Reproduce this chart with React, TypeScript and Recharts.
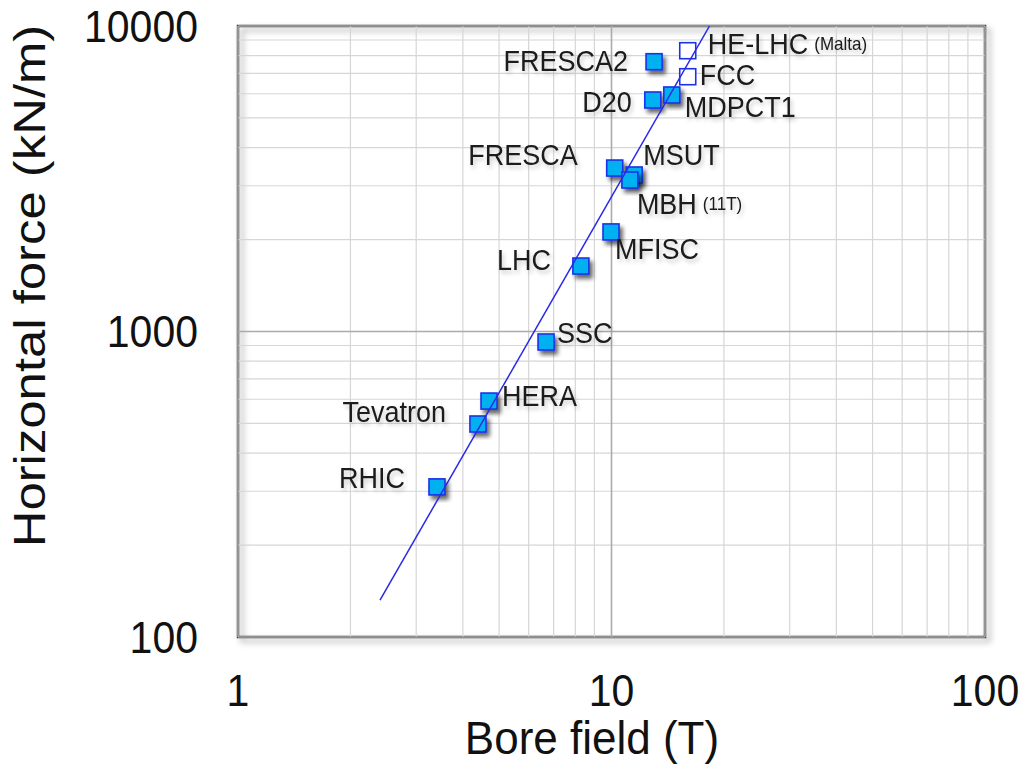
import React from 'react';
import {
  ScatterChart,
  Scatter,
  XAxis,
  YAxis,
  ReferenceLine,
  ReferenceArea,
} from 'recharts';

// magnet data
const magnets = ['RHIC', 'Tevatron', 'HERA', 'SSC', 'LHC', 'MFISC', 'FRESCA', 'MSUT', 'MBH', 'D20', 'MDPCT1', 'FRESCA2', 'FCC', 'HE-LHC'];
const boreField = [3.41, 4.39, 4.7, 6.68, 8.28, 9.97, 10.2, 11.5, 11.2, 12.9, 14.5, 13.0, 16.0, 16.0];
const horizontalForce = [310, 498, 592, 924, 1638, 2118, 3428, 3253, 3133, 5725, 5945, 7640, 6823, 8300];
const designOnly = [false, false, false, false, false, false, false, false, false, false, false, false, true, true];
const labelNotes: Record<string, string> = { MBH: '(11T)', 'HE-LHC': '(Malta)' };

// fitted trend line end points
const fitField = [2.4, 18.3];
const fitForce = [132, 10000];

const xTicks = [1, 10, 100];
const yTicks = [100, 1000, 10000];
const xMinor = [2, 3, 4, 5, 6, 7, 8, 9, 20, 30, 40, 50, 60, 70, 80, 90];
const yMinor = [200, 300, 400, 500, 600, 700, 800, 900, 2000, 3000, 4000, 5000, 6000, 7000, 8000, 9000];

const points = magnets.map((name, i) => ({
  name,
  x: boreField[i],
  y: horizontalForce[i],
  open: designOnly[i],
}));
const fitLine = fitField.map((x, i) => ({ x, y: fitForce[i] }));

// label placement relative to each marker
const labelPos: Record<string, [number, number, 'start' | 'end']> = {
  RHIC: [-32, -9, 'end'],
  Tevatron: [-32, -12, 'end'],
  HERA: [13, -5, 'start'],
  SSC: [11, -9, 'start'],
  LHC: [-30, -6, 'end'],
  MFISC: [4, 17, 'start'],
  FRESCA: [-37, -13, 'end'],
  MSUT: [9, -20, 'start'],
  MBH: [7, 24, 'start'],
  D20: [-21, 2, 'end'],
  MDPCT1: [13, 12, 'start'],
  FRESCA2: [-26, -1, 'end'],
  FCC: [12, -2, 'start'],
  'HE-LHC': [20, -7, 'start'],
};

const FONT = '"Liberation Sans", Arial, Helvetica, sans-serif';
// the original picture is slightly stretched vertically
const STRETCH = 1.08;

const Frame = (props: any) => {
  const { x, y, width, height } = props;
  return (
    <g>
      <defs>
        <filter id="frameShadow" x="-5%" y="-5%" width="115%" height="115%">
          <feDropShadow dx="4" dy="4" stdDeviation="3" floodColor="#000" floodOpacity="0.35" />
        </filter>
        <filter id="markShadow" x="-50%" y="-50%" width="200%" height="200%">
          <feDropShadow dx="3" dy="4" stdDeviation="2" floodColor="#000" floodOpacity="0.6" />
        </filter>
        <filter id="textShadow" x="-10%" y="-30%" width="130%" height="170%">
          <feDropShadow dx="2" dy="3" stdDeviation="2" floodColor="#000" floodOpacity="0.2" />
        </filter>
      </defs>
      <rect x={x} y={y} width={width} height={height} fill="none" stroke="#3a3a3a" strokeWidth={2.5} filter="url(#frameShadow)" />
    </g>
  );
};

const Marker = (props: any) => {
  const { cx, cy, payload } = props;
  if (cx == null || cy == null) return null;
  const s = 16;
  const [dx, dy, anchor] = labelPos[payload.name] || [10, 0, 'start'];
  const note = labelNotes[payload.name];
  return (
    <g>
      <rect
        x={cx - s / 2}
        y={cy - s / 2}
        width={s}
        height={s}
        fill={payload.open ? '#ffffff' : '#00b0f0'}
        stroke="#1a32e8"
        strokeWidth={1.6}
        filter={payload.open ? undefined : 'url(#markShadow)'}
      />
      <g transform={`translate(${cx + dx},${cy + dy}) scale(1,${STRETCH})`}>
        <text
          x={0}
          y={0}
          textAnchor={anchor}
          dominantBaseline="central"
          fontFamily={FONT}
          fontSize={27}
          fill="#1a1a1a"
          filter="url(#textShadow)"
        >
          {payload.name}
          {note ? (
            <tspan fontSize={17} dx={6}>
              {note}
            </tspan>
          ) : null}
        </text>
      </g>
    </g>
  );
};

const XTick = (props: any) => {
  const { x, payload } = props;
  return (
    <g transform={`translate(${x},690) scale(1,${STRETCH})`}>
      <text x={0} y={0} textAnchor="middle" dominantBaseline="central" fontFamily={FONT} fontSize={41} fill="#111">
        {payload.value}
      </text>
    </g>
  );
};

const YTick = (props: any) => {
  const { y, payload } = props;
  return (
    <g transform={`translate(198,${y}) scale(1,${STRETCH})`}>
      <text x={0} y={0} textAnchor="end" dominantBaseline="central" fontFamily={FONT} fontSize={41} fill="#111">
        {payload.value}
      </text>
    </g>
  );
};

export default function App() {
  return (
    <div style={{ position: 'fixed', left: 0, top: 0, width: 1020, height: 770, background: '#fff' }}>
      <ScatterChart width={1020} height={770} margin={{ top: 26, right: 35, bottom: 0, left: 0 }}>
        <XAxis
          type="number"
          dataKey="x"
          scale="log"
          domain={[1, 100]}
          ticks={xTicks}
          allowDataOverflow
          axisLine={false}
          tickLine={false}
          height={133}
          tick={<XTick />}
        />
        <YAxis
          type="number"
          dataKey="y"
          scale="log"
          domain={[100, 10000]}
          ticks={yTicks}
          allowDataOverflow
          axisLine={false}
          tickLine={false}
          width={238}
          tick={<YTick />}
        />
        {xMinor.map((v) => (
          <ReferenceLine key={'xm' + v} x={v} stroke="#d6d6d6" strokeWidth={1.2} />
        ))}
        {yMinor.map((v) => (
          <ReferenceLine key={'ym' + v} y={v} stroke="#d6d6d6" strokeWidth={1.2} />
        ))}
        {xTicks.map((v) => (
          <ReferenceLine key={'xM' + v} x={v} stroke="#ababab" strokeWidth={1.6} />
        ))}
        {yTicks.map((v) => (
          <ReferenceLine key={'yM' + v} y={v} stroke="#ababab" strokeWidth={1.6} />
        ))}
        <ReferenceArea x1={1} x2={100} y1={100} y2={10000} shape={<Frame />} />
        <Scatter data={points} shape={<Marker />} isAnimationActive={false} />
        <Scatter
          data={fitLine}
          line={{ stroke: '#2a2ae6', strokeWidth: 1.5 }}
          shape={() => <g />}
          isAnimationActive={false}
        />
        <g transform="translate(30,286) rotate(-90) scale(1.13,1)">
          <text x={0} y={0} textAnchor="middle" dominantBaseline="central" fontFamily={FONT} fontSize={45} fill="#111">
            Horizontal force (kN/m)
          </text>
        </g>
        <g transform="translate(592,738) scale(1,1.05)">
          <text x={0} y={0} textAnchor="middle" dominantBaseline="central" fontFamily={FONT} fontSize={44} fill="#111">
            Bore field (T)
          </text>
        </g>
      </ScatterChart>
    </div>
  );
}
